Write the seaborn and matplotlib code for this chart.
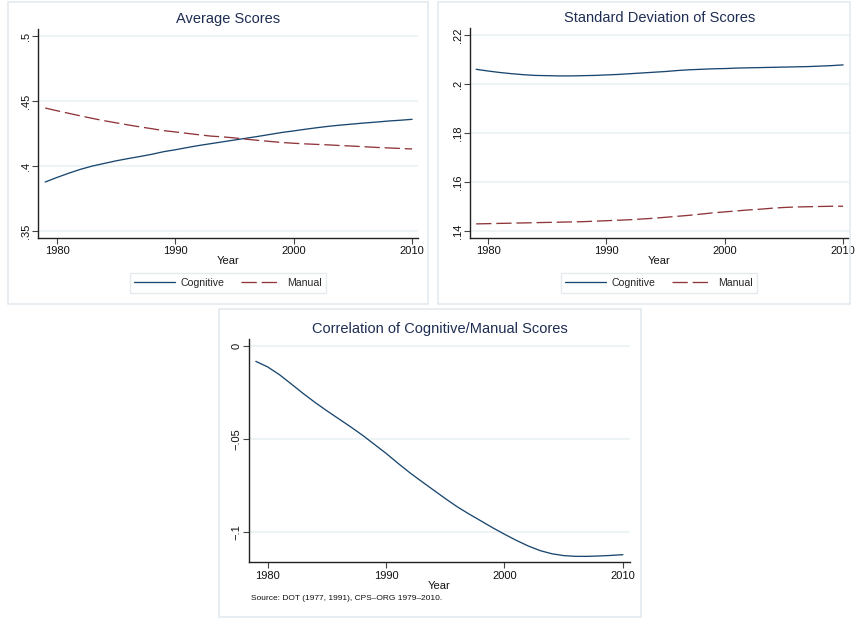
import numpy as np
import pandas as pd
import matplotlib
matplotlib.use("Agg")
import matplotlib.pyplot as plt
import seaborn as sns
from matplotlib.patches import Rectangle
from matplotlib.lines import Line2D
from matplotlib.ticker import FuncFormatter

years = list(range(1979, 2011))

avg_cognitive = [.3877, .3912, .3945, .3975, .4000, .4020, .4040, .4057, .4073, .4090, .4110,
                 .4125, .4142, .4158, .4172, .4186, .4200, .4214, .4228, .4243, .4258,
                 .4270, .4283, .4295, .4306, .4315, .4323, .4331, .4338, .4346, .4352, .4359]
avg_manual = [.4446, .4425, .4405, .4385, .4366, .4348, .4332, .4316, .4301, .4287, .4272,
              .4262, .4251, .4240, .4230, .4224, .4216, .4206, .4197, .4189, .4181,
              .4175, .4170, .4166, .4162, .4157, .4153, .4148, .4143, .4139, .4135, .4131]

sd_cognitive = [.2060, .2053, .2047, .2042, .2038, .2035, .2034, .2033, .2033, .2034, .2035,
                .2037, .2039, .2042, .2045, .2048, .2051, .2055, .2058, .2060, .2062,
                .2063, .2065, .2066, .2067, .2068, .2069, .2070, .2071, .2073, .2075, .2078]
sd_manual = [.1429, .1430, .1431, .1432, .1433, .1434, .1435, .1436, .1437, .1438, .1440,
             .1442, .1444, .1446, .1449, .1452, .1456, .1460, .1464, .1469, .1474,
             .1478, .1482, .1486, .1489, .1493, .1496, .1498, .1499, .1500, .1501, .1501]

correlation = [-.0084, -.0114, -.0156, -.0206, -.0257, -.0305, -.0350, -.0393, -.0436, -.0481, -.0530,
               -.0579, -.0632, -.0683, -.0730, -.0776, -.0822, -.0866, -.0905, -.0942, -.0979,
               -.1014, -.1047, -.1077, -.1102, -.1119, -.1129, -.1133, -.1133, -.1131, -.1128, -.1124]

x_ticks = [1980, 1990, 2000, 2010]
avg_ticks = [.35, .4, .45, .5]
sd_ticks = [.14, .16, .18, .2, .22]
corr_ticks = [-.1, -.05, 0]

titles = ["Average Scores", "Standard Deviation of Scores", "Correlation of Cognitive/Manual Scores"]
series_names = ["Cognitive", "Manual"]
source_note = "Source: DOT (1977, 1991), CPS\u2013ORG 1979\u20132010."

sns.set_theme(style="white")
plt.rcParams['font.family'] = ['Liberation Sans', 'DejaVu Sans']
plt.rcParams['lines.scale_dashes'] = False
plt.rcParams['axes.unicode_minus'] = True

NAVY = "#1a476f"
MAROON = "#90353b"
TITLE_C = "#1e2d52"
GRID_C = "#e9f0f3"
BORDER_C = "#e3eaee"
DASH = (0, (11, 3.5))

W, H = 857, 619
fig = plt.figure(figsize=(W / 100, H / 100), dpi=100)
fig.patch.set_facecolor("white")


def ax_at(left, top, right, bottom):
    return fig.add_axes([left / W, 1 - bottom / H, (right - left) / W, (bottom - top) / H])


def box(left, top, right, bottom):
    fig.patches.append(Rectangle((left / W, 1 - bottom / H), (right - left) / W, (bottom - top) / H,
                                 transform=fig.transFigure, fill=False, edgecolor=BORDER_C, lw=1.2))


def stata_fmt(v, pos=None):
    if abs(v) < 1e-12:
        return "0"
    s = ("%g" % abs(v))
    if s.startswith("0."):
        s = s[1:]
    return ("\u2212" if v < 0 else "") + s


def style_ax(ax, yticks, ylim, xlim, title):
    ax.set_xlim(*xlim)
    ax.set_ylim(*ylim)
    ax.set_xticks(x_ticks)
    ax.set_yticks(yticks)
    ax.yaxis.set_major_formatter(FuncFormatter(stata_fmt))
    ax.grid(axis="y", color=GRID_C, lw=1.1)
    ax.grid(axis="x", visible=False)
    ax.set_axisbelow(True)
    for s in ["top", "right"]:
        ax.spines[s].set_visible(False)
    for s in ["left", "bottom"]:
        ax.spines[s].set_color("#222222")
        ax.spines[s].set_linewidth(1.0)
    ax.tick_params(axis="both", which="major", direction="out", length=4, width=0.8,
                   color="#444444", labelsize=8, labelcolor="#111111", pad=2,
                   left=True, bottom=True)
    for lab in ax.get_yticklabels():
        lab.set_rotation(90)
        lab.set_va("center")
        lab.set_ha("center")
    ax.tick_params(axis="y", pad=5)
    ax.set_xlabel("Year", fontsize=8, color="#111111", labelpad=0)
    ax.set_ylabel("")
    ax.set_title(title, fontsize=10.5, color=TITLE_C, pad=4)
    ax.set_facecolor("white")


# Panel borders
box(8, 2, 428, 304)
box(438, 2, 850, 304)
box(219, 309, 641, 617)

df_avg = pd.DataFrame({"Year": years, "Cognitive": avg_cognitive, "Manual": avg_manual})
df_sd = pd.DataFrame({"Year": years, "Cognitive": sd_cognitive, "Manual": sd_manual})
df_corr = pd.DataFrame({"Year": years, "Correlation": correlation})

# Panel 1
ax1 = ax_at(38, 29, 418, 238)
sns.lineplot(data=df_avg, x="Year", y="Cognitive", ax=ax1, color=NAVY, lw=0.95)
sns.lineplot(data=df_avg, x="Year", y="Manual", ax=ax1, color=MAROON, lw=0.95, linestyle=DASH)
style_ax(ax1, avg_ticks, (.35 - 7 / 65 * .05, .5 + 7 / 65 * .05), (1978.39, 2010.5), titles[0])

# Panel 2
ax2 = ax_at(470, 28, 849, 238)
sns.lineplot(data=df_sd, x="Year", y="Cognitive", ax=ax2, color=NAVY, lw=0.95)
sns.lineplot(data=df_sd, x="Year", y="Manual", ax=ax2, color=MAROON, lw=0.95, linestyle=DASH)
style_ax(ax2, sd_ticks, (.14 - 7 / 49 * .02, .22 + 7 / 49 * .02), (1978.48, 2010.5), titles[1])

# Panel 3
ax3 = ax_at(249, 338.7, 630, 562.3)
sns.lineplot(data=df_corr, x="Year", y="Correlation", ax=ax3, color=NAVY, lw=0.95)
style_ax(ax3, corr_ticks, (-.1165, .0038), (1978.42, 2010.6), titles[2])
fig.text(251 / W, 1 - 599 / H, source_note, fontsize=6, color="#111111", ha="left", va="center")

# Legends
handles = [Line2D([], [], color=NAVY, lw=0.95),
           Line2D([], [], color=MAROON, lw=0.95, linestyle=DASH)]
for cx in (228, 659):
    leg = fig.legend(handles, series_names, loc="center", ncol=2,
                     bbox_to_anchor=(cx / W, 1 - 283 / H), fontsize=7.6,
                     frameon=True, fancybox=False, handlelength=3.8, handletextpad=0.55,
                     columnspacing=1.6, borderpad=0.45, edgecolor="#dfe6ea")
    leg.get_frame().set_linewidth(1.0)

fig.savefig("out.png", dpi=100, facecolor="white")
